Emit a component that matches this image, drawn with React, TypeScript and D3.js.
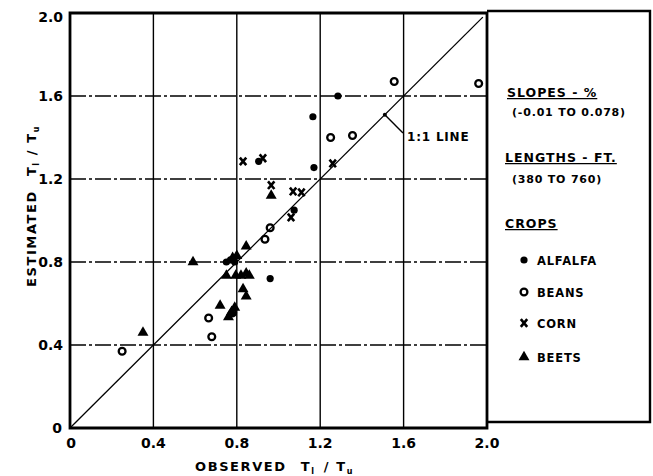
import React from 'react'
import * as d3 from 'd3'

const alfalfa: [number, number][] = [
  [1.165, 1.5], [1.285, 1.6], [1.17, 1.255], [0.96, 0.72], [1.075, 1.05],
  [0.905, 1.285], [0.75, 0.8], [0.77, 0.81], [0.79, 0.8]
]
const beans: [number, number][] = [
  [0.25, 0.37], [0.665, 0.53], [0.68, 0.44], [0.78, 0.555], [0.935, 0.91],
  [0.96, 0.965], [1.555, 1.67], [1.96, 1.66], [1.25, 1.4], [1.355, 1.41]
]
const corn: [number, number][] = [
  [0.83, 1.285], [0.925, 1.3], [0.965, 1.17], [1.07, 1.14], [1.11, 1.135],
  [1.06, 1.015], [1.26, 1.275]
]
const beets: [number, number][] = [
  [0.35, 0.46], [0.59, 0.8], [0.72, 0.59], [0.76, 0.535], [0.775, 0.56],
  [0.79, 0.58], [0.83, 0.67], [0.845, 0.635], [0.75, 0.735], [0.795, 0.735],
  [0.82, 0.735], [0.845, 0.745], [0.86, 0.735], [0.78, 0.82], [0.8, 0.83],
  [0.845, 0.875], [0.965, 1.12]
]
const ticks = [0, 0.4, 0.8, 1.2, 1.6, 2.0]
const tickLabels = ['0', '0.4', '0.8', '1.2', '1.6', '2.0']
const gridVals = [0.4, 0.8, 1.2, 1.6]
const cropNames = ['ALFALFA', 'BEANS', 'CORN', 'BEETS']

const font = "'DejaVu Sans', sans-serif"

function Marker({ kind, cx, cy }: { kind: number; cx: number; cy: number }) {
  if (kind === 0) return <circle cx={cx} cy={cy} r={3.6} fill="#000" />
  if (kind === 1) return <circle cx={cx} cy={cy} r={3.4} fill="none" stroke="#000" strokeWidth={2.3} />
  if (kind === 2)
    return (
      <path d={`M${cx - 3.2},${cy - 3.8}L${cx + 3.2},${cy + 3.8}M${cx + 3.2},${cy - 3.8}L${cx - 3.2},${cy + 3.8}`}
        stroke="#000" strokeWidth={2.6} />
    )
  const tri = d3.symbol(d3.symbolTriangle, 52)()
  return <path d={tri as string} transform={`translate(${cx},${cy})`} fill="#000" />
}

export default function App() {
  const x = d3.scaleLinear().domain([0, 2]).range([70, 487])
  const y = d3.scaleLinear().domain([0, 2]).range([428, 13])
  const series = [alfalfa, beans, corn, beets]
  const legendY = [260, 292, 323, 357]

  return (
    <svg width={653} height={476} style={{ position: 'absolute', left: 0, top: 0, background: '#fff' }}
      fontFamily={font} fontWeight="bold">
      {/* grid */}
      {gridVals.map(v => (
        <line key={'v' + v} x1={x(v)} x2={x(v)} y1={y(0)} y2={y(2)} stroke="#000" strokeWidth={1.4} />
      ))}
      {gridVals.map(v => (
        <line key={'h' + v} x1={x(0)} x2={x(2)} y1={y(v)} y2={y(v)} stroke="#000" strokeWidth={1.4}
          strokeDasharray="16,3,3,3" />
      ))}
      {/* 1:1 line */}
      <line x1={x(0)} y1={y(0)} x2={x(1.98)} y2={y(1.98)} stroke="#000" strokeWidth={1.3} />
      <line x1={x(1.51)} y1={y(1.51)} x2={403} y2={133} stroke="#000" strokeWidth={1.4} />
      <circle cx={x(1.51)} cy={y(1.51)} r={2} fill="#000" />
      <text x={407} y={141} fontSize={12} letterSpacing={0.8}>1:1 LINE</text>

      {/* frame + legend box */}
      <path d={`M${x(0)},${y(0)}V${y(2)}H${x(2)}V${y(0)}Z`} fill="none" stroke="#000" strokeWidth={2.8} />
      <path d={`M${x(2)},${y(2) - 2}H650V${y(0) - 6}H${x(2)}`} fill="none" stroke="#000" strokeWidth={2.4} />

      {/* points */}
      {series.map((s, k) =>
        s.map((d, i) => <Marker key={k + '-' + i} kind={k} cx={x(d[0])} cy={y(d[1])} />)
      )}

      {/* tick labels */}
      {ticks.map((t, i) => (
        <text key={'xt' + t} x={x(t) + (i === 0 ? 1 : 0)} y={448} fontSize={14} textAnchor="middle">{tickLabels[i]}</text>
      ))}
      {ticks.map((t, i) => (
        <text key={'yt' + t} x={i === 0 ? 62 : 63} y={y(t) + (i === 5 ? 9 : 5)} fontSize={14} textAnchor="end">{tickLabels[i]}</text>
      ))}

      {/* axis titles */}
      <text x={195} y={471} fontSize={13} letterSpacing={1.6}>
        OBSERVED<tspan dx={14}>T</tspan><tspan fontSize={8} dy={3}>l</tspan><tspan dy={-3} dx={2}> / T</tspan><tspan fontSize={8} dy={3}>u</tspan>
      </text>
      <text transform="translate(36,287) rotate(-90)" fontSize={13} letterSpacing={1.6}>
        ESTIMATED<tspan dx={14}>T</tspan><tspan fontSize={8} dy={3}>l</tspan><tspan dy={-3}> / T</tspan><tspan fontSize={8} dy={3}>u</tspan>
      </text>

      {/* legend */}
      <text x={507} y={97} fontSize={12.5} textDecoration="underline" letterSpacing={1}>SLOPES - %</text>
      <text x={512} y={116} fontSize={11} letterSpacing={0.8}>(-0.01 TO 0.078)</text>
      <text x={505} y={162} fontSize={12.5} textDecoration="underline" letterSpacing={1}>LENGTHS - FT.</text>
      <text x={512} y={183} fontSize={11} letterSpacing={0.8}>(380 TO 760)</text>
      <text x={505} y={228} fontSize={12.5} textDecoration="underline" letterSpacing={1}>CROPS</text>
      {cropNames.map((c, k) => (
        <g key={c}>
          <Marker kind={k} cx={524} cy={legendY[k]} />
          <text x={537} y={legendY[k] + 5} fontSize={11.5} letterSpacing={0.8}>{c}</text>
        </g>
      ))}
    </svg>
  )
}
